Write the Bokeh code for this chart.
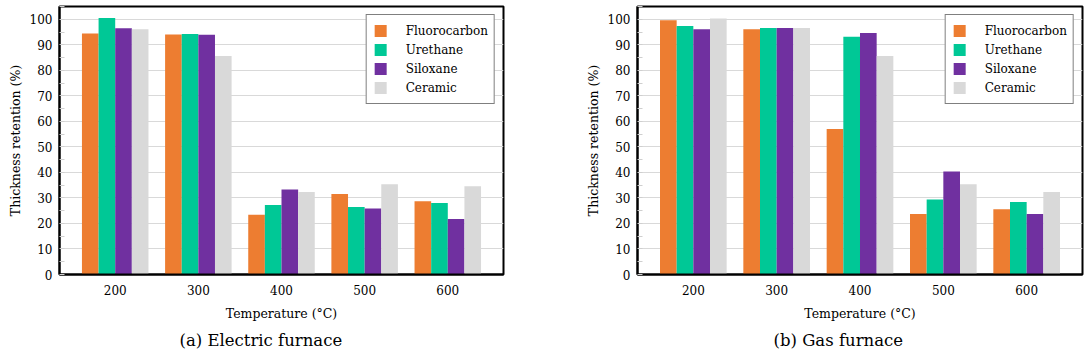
from bokeh.plotting import figure
from bokeh.layouts import row
from bokeh.models import (FactorRange, Range1d, SingleIntervalTicker, Title,
                          ColumnDataSource)
from bokeh.transform import dodge
from bokeh.embed import file_html
from bokeh.resources import INLINE

temps = ["200", "300", "400", "500", "600"]
materials = ["Fluorocarbon", "Urethane", "Siloxane", "Ceramic"]
colors = ["#ED7D31", "#00C896", "#7030A0", "#D9D9D9"]

# (a) Electric furnace
electric_fluorocarbon = [94.4, 94.0, 23.4, 31.5, 28.7]
electric_urethane = [100.5, 94.2, 27.2, 26.4, 28.0]
electric_siloxane = [96.5, 93.9, 33.3, 25.9, 21.7]
electric_ceramic = [96.1, 85.6, 32.3, 35.4, 34.6]

# (b) Gas furnace
gas_fluorocarbon = [99.6, 96.1, 57.0, 23.7, 25.6]
gas_urethane = [97.4, 96.6, 93.1, 29.4, 28.4]
gas_siloxane = [96.1, 96.6, 94.6, 40.4, 23.7]
gas_ceramic = [100.3, 96.6, 85.6, 35.4, 32.3]

FONT = "DejaVu Serif"
offsets = [-0.3, -0.1, 0.1, 0.3]


def make_panel(series, caption, width, b_left, b_right, cap_offset):
    src = ColumnDataSource(dict(temp=temps, **dict(zip(materials, series))))
    p = figure(x_range=FactorRange(factors=temps, range_padding=0.17,
                                   range_padding_units="absolute"),
               y_range=Range1d(0, 105), width=width, height=356,
               min_border_left=b_left, min_border_right=b_right,
               min_border_top=6, min_border_bottom=82,
               output_backend="svg", toolbar_location=None,
               background_fill_color="white", border_fill_color="white")
    for m, c, off in zip(materials, colors, offsets):
        p.vbar(x=dodge("temp", off, range=p.x_range), top=m, width=0.2,
               source=src, fill_color=c, line_color=None, legend_label=m)

    p.outline_line_color = "black"
    p.outline_line_width = 2
    p.xgrid.grid_line_color = None
    ticker = SingleIntervalTicker(interval=10, num_minor_ticks=2)
    p.yaxis.ticker = ticker
    p.ygrid.ticker = ticker
    p.ygrid.grid_line_color = "#d9d9d9"
    p.ygrid.grid_line_width = 1

    for ax in (p.xaxis[0], p.yaxis[0]):
        ax.axis_line_color = "black"
        ax.axis_line_width = 2
        ax.major_tick_in = 0
        ax.major_tick_out = 0
        ax.major_label_text_font = FONT
        ax.major_label_text_font_size = "12px"
        ax.major_label_text_color = "black"
        ax.axis_label_text_font = FONT
        ax.axis_label_text_font_size = "12.5px"
        ax.axis_label_text_font_style = "normal"
        ax.axis_label_text_color = "black"
    p.xaxis.major_label_standoff = 10
    p.xaxis.axis_label = "Temperature (°C)"
    p.xaxis.axis_label_standoff = 8
    p.xaxis.minor_tick_line_color = None
    p.yaxis.axis_label = "Thickness retention (%)"
    p.yaxis.major_label_standoff = 7
    p.yaxis.axis_label_standoff = 4
    p.yaxis.minor_tick_in = 5
    p.yaxis.minor_tick_out = 0
    p.yaxis.minor_tick_line_color = "#cfcfcf"

    lg = p.legend[0]
    lg.location = "top_right"
    lg.margin = 8
    lg.padding = 6
    lg.spacing = 0
    lg.label_height = 19
    lg.glyph_width = 15
    lg.glyph_height = 15
    lg.label_standoff = 18
    lg.label_text_font = FONT
    lg.label_text_font_size = "12px"
    lg.label_text_color = "black"
    lg.border_line_color = "black"
    lg.border_line_width = 1
    lg.background_fill_alpha = 1

    p.add_layout(Title(text=caption, align="left", offset=cap_offset,
                       text_font=FONT, text_font_size="16.5px",
                       text_font_style="normal", text_color="black",
                       standoff=10), "below")
    return p


left = make_panel([electric_fluorocarbon, electric_urethane, electric_siloxane,
                   electric_ceramic], "(a) Electric furnace", 544, 59, 41, 120)
right = make_panel([gas_fluorocarbon, gas_urethane, gas_siloxane, gas_ceramic],
                   "(b) Gas furnace", 544, 93, 6, 136)

layout = row(left, right)
open("out.html", "w").write(file_html(layout, INLINE))
